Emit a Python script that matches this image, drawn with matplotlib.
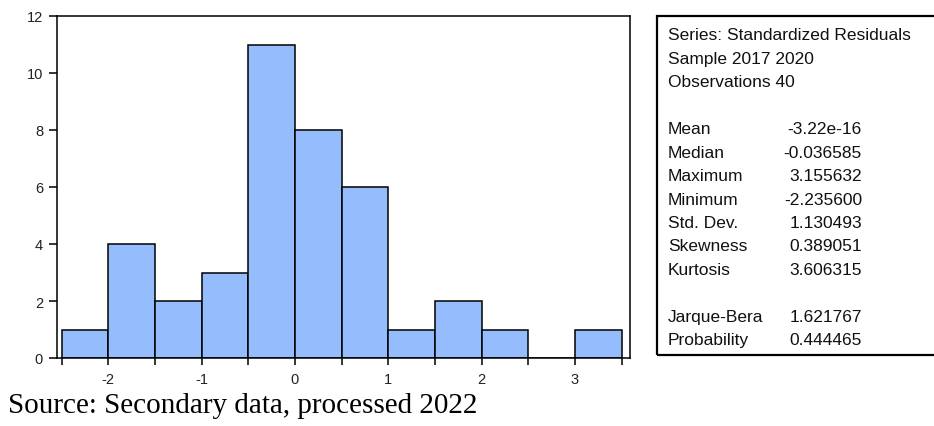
import matplotlib.pyplot as plt
from matplotlib.patches import Rectangle
import numpy as np

plt.rcParams["axes.unicode_minus"] = False

# Histogramm-Daten (Klassenbreite 0.5)
bin_left = [-2.5, -2.0, -1.5, -1.0, -0.5, 0.0, 0.5, 1.0, 1.5, 2.0, 2.5, 3.0]
counts = [1, 4, 2, 3, 11, 8, 6, 1, 2, 1, 0, 1]

stat_labels = ["Mean", "Median", "Maximum", "Minimum", "Std. Dev.",
               "Skewness", "Kurtosis", "", "Jarque-Bera", "Probability"]
stat_values = ["-3.22e-16", "-0.036585", "3.155632", "-2.235600", "1.130493",
               "0.389051", "3.606315", "", "1.621767", "0.444465"]
header_lines = ["Series: Standardized Residuals", "Sample 2017 2020", "Observations 40"]

W, H = 934, 427
fig = plt.figure(figsize=(W / 100, H / 100), dpi=100)
ax = fig.add_axes([57 / W, 1 - 359 / H, (630 - 57) / W, (359 - 17) / H])

ax.bar(bin_left, counts, width=0.5, align="edge", color="#95bdfd",
       edgecolor="black", linewidth=1.1, zorder=2)

ax.set_xlim(-2.55, 3.59)
ax.set_ylim(0, 12)
ax.set_yticks(range(0, 13, 2))
ax.set_xticks([-2, -1, 0, 1, 2, 3])
ax.set_xticks(np.arange(-2.5, 3.51, 0.5), minor=True)
ax.tick_params(axis="y", direction="out", length=6, width=1.1, labelsize=10.5,
               labelcolor="#222222", pad=4)
ax.tick_params(axis="x", which="both", direction="out", length=5, width=1.1,
               labelsize=10.5, labelcolor="#222222", pad=5)
for s in ax.spines.values():
    s.set_linewidth(1.1)
for lab in ax.get_yticklabels() + ax.get_xticklabels():
    lab.set_family("Liberation Sans")

# Statistik-Box
box = Rectangle((657 / W, 1 - 356 / H), (W + 10 - 657) / W, (356 - 17) / H,
                transform=fig.transFigure, fill=False, edgecolor="black",
                linewidth=1.6, clip_on=False)
fig.add_artist(box)

font = dict(family="Liberation Sans", fontsize=12.5, color="#111111", va="center")
y0 = 36
step = 23.4
for i, line in enumerate(header_lines):
    fig.text(668 / W, 1 - (y0 + i * step) / H, line, ha="left", **font)
y1 = 130
for i, (lab, val) in enumerate(zip(stat_labels, stat_values)):
    if not lab:
        continue
    yy = 1 - (y1 + i * step) / H
    fig.text(668 / W, yy, lab, ha="left", **font)
    fig.text(862 / W, yy, val, ha="right", **font)

fig.text(8 / W, 1 - 406 / H, "Source: Secondary data, processed 2022",
         family="Liberation Serif", fontsize=21, ha="left", va="center")

fig.savefig("out.png", dpi=100)
